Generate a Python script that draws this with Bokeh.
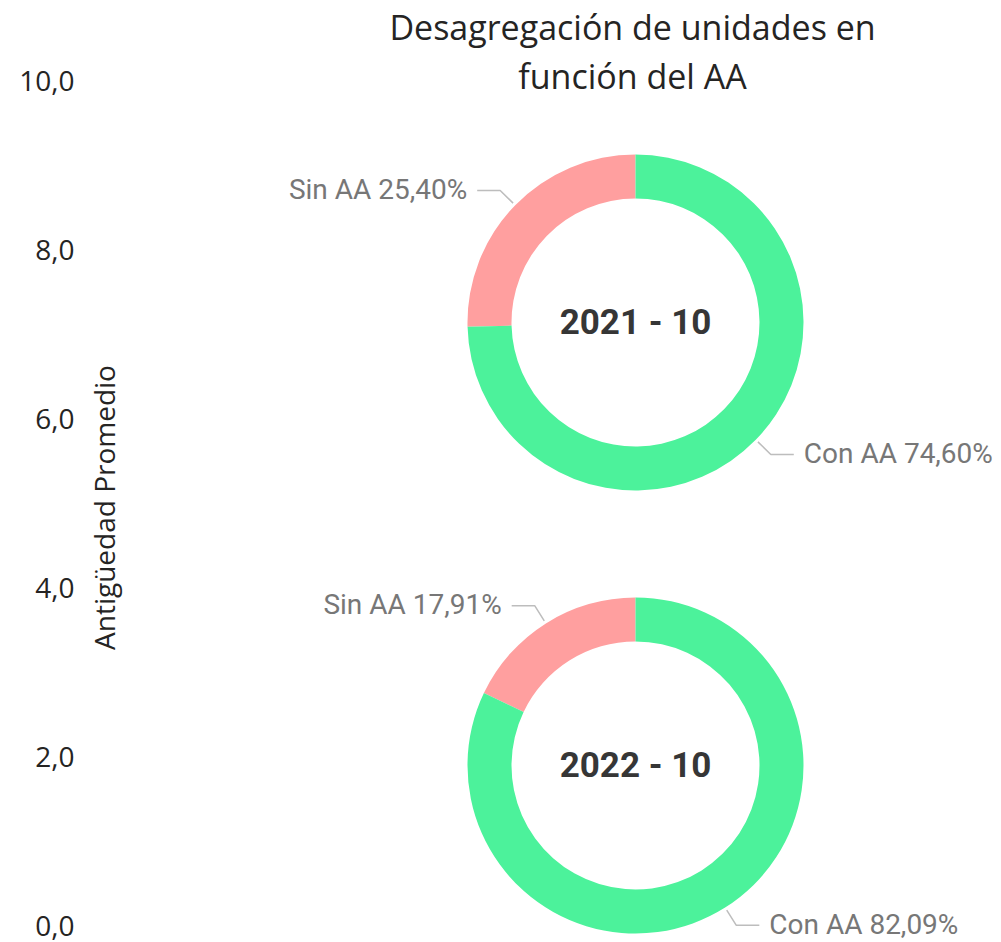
import math
from bokeh.plotting import figure
from bokeh.models import Range1d, ColumnDataSource, Label, FixedTicker
from bokeh.core.properties import value
from bokeh.embed import file_html
from bokeh.resources import INLINE

# ---- data ----
periods = ["2021 - 10", "2022 - 10"]
categories = ["Sin AA", "Con AA"]
sin_aa_pct = [25.40, 17.91]
con_aa_pct = [74.60, 82.09]
cat_colors = ["#FF9F9F", "#4CF29B"]
y_ticks = [0, 2, 4, 6, 8, 10]
y_tick_labels = ["0,0", "2,0", "4,0", "6,0", "8,0", "10,0"]
title_lines = ["Desagregación de unidades en", "función del AA"]
y_axis_title = "Antigüedad Promedio"

# ---- layout (page pixel coordinates, y down) ----
W, H = 1001, 942
LEFT = 76
Y_TOP_PX, Y_BOT_PX = 80, 925          # pixel rows of 10,0 and 0,0
ppu = (Y_BOT_PX - Y_TOP_PX) / 10.0
centers = [(635, 322), (635, 765)]
R_OUT, R_IN = 168, 124

p = figure(width=W, height=H, x_range=Range1d(LEFT, W),
           y_range=Range1d(-(H - Y_BOT_PX) / ppu, 10 + Y_TOP_PX / ppu),
           x_axis_location=None, y_axis_location="left", toolbar_location=None,
           output_backend="svg", min_border_left=LEFT, min_border_right=0,
           min_border_top=0, min_border_bottom=0)
p.extra_y_ranges = {"px": Range1d(H, 0)}
p.outline_line_color = None
p.xgrid.visible = False
p.ygrid.visible = False
p.background_fill_color = "white"

ax = p.yaxis[0]
ax.ticker = FixedTicker(ticks=y_ticks)
ax.major_label_overrides = {t: l for t, l in zip(y_ticks, y_tick_labels)}
ax.axis_line_color = None
ax.major_tick_line_color = None
ax.minor_tick_line_color = None
ax.major_tick_out = 0
ax.major_tick_in = 0
ax.major_label_standoff = 2
ax.major_label_text_font = "Open Sans"
ax.major_label_text_font_size = "28px"
ax.major_label_text_color = "#252423"

# wedges and leader labels
wx, wy, ws, we, wc = [], [], [], [], []
lx, ly, ltext, lalign = [], [], [], []
lxs, lys = [], []
for i, (cx, cy) in enumerate(centers):
    pcts = [sin_aa_pct[i], con_aa_pct[i]]
    start = 90.0
    for j, pct in enumerate(pcts):
        end = start + pct * 3.6
        wx.append(cx); wy.append(cy)
        ws.append(math.radians(start)); we.append(math.radians(end)); wc.append(cat_colors[j])
        mid = math.radians((start + end) / 2.0)
        c, s = math.cos(mid), math.sin(mid)
        x0, y0 = cx + (R_OUT + 3) * c, cy - (R_OUT + 3) * s
        x1, y1 = cx + (R_OUT + 21) * c, cy - (R_OUT + 21) * s
        sg = 1 if c >= 0 else -1
        x2 = x1 + sg * 23
        lxs.append([x0, x1, x2]); lys.append([y0, y1, y1])
        lx.append(x2 + sg * 10); ly.append(y1 - 1)
        ltext.append(f"{categories[j]} {pct:.2f}%".replace(".", ","))
        lalign.append("left" if sg > 0 else "right")
        start = end

src = ColumnDataSource(dict(x=wx, y=wy, start=ws, end=we, color=wc))
p.annular_wedge(x="x", y="y", inner_radius=R_IN, outer_radius=R_OUT,
                inner_radius_units="screen", outer_radius_units="screen",
                start_angle="start", end_angle="end", fill_color="color",
                line_color=None, source=src, y_range_name="px")

p.multi_line(xs=lxs, ys=lys, line_color="#BDBDBD", line_width=1.5, y_range_name="px")

lsrc = ColumnDataSource(dict(x=lx, y=ly, text=ltext, align=lalign))
p.text(x="x", y="y", text="text", text_align="align", text_baseline="middle",
       text_font=value("Roboto"), text_font_size="28px", text_color="#777777",
       source=lsrc, y_range_name="px")

csrc = ColumnDataSource(dict(x=[c[0] for c in centers], y=[c[1] for c in centers], text=periods))
p.text(x="x", y="y", text="text", text_align="center", text_baseline="middle",
       text_font=value("Roboto"), text_font_style="bold", text_font_size="35px",
       text_color="#363636", source=csrc, y_range_name="px")

# title
for t, by in zip(title_lines, [26, 75]):
    p.add_layout(Label(x=632, y=by, y_range_name="px", text=t, text_align="center",
                       text_baseline="alphabetic", text_font="Open Sans",
                       text_font_size="34px", text_color="#252423"))

p.add_layout(Label(x=103, y=507, y_range_name="px", text=y_axis_title, angle=math.pi / 2,
                   text_align="center", text_baseline="middle", text_font="Open Sans",
                   text_font_size="28px", text_color="#252423"))

open("out.html", "w").write(file_html(p, INLINE))
